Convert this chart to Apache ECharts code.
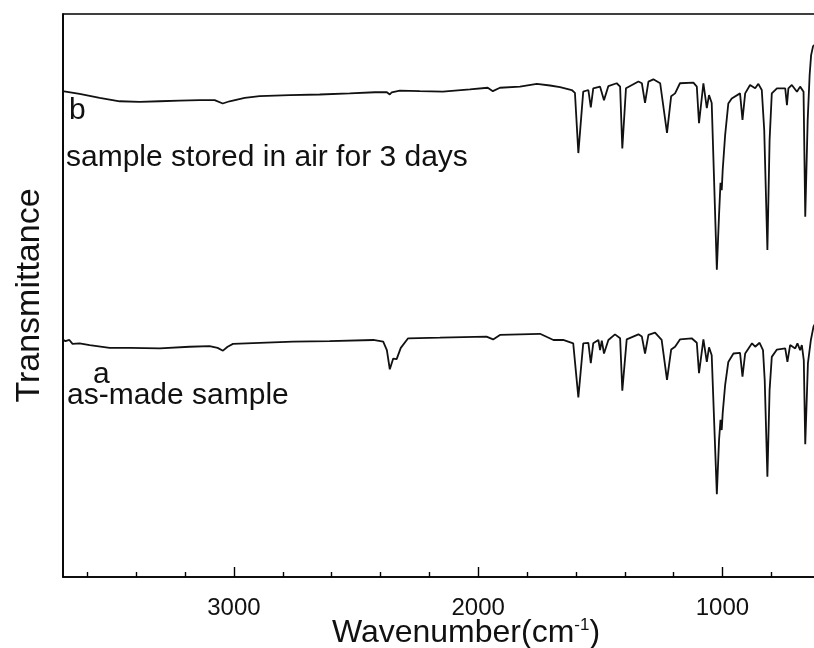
<!DOCTYPE html>
<html>
<head>
<meta charset="utf-8">
<script src="https://cdn.jsdelivr.net/npm/echarts@6/dist/echarts.min.js"></script>
<style>html,body{margin:0;padding:0;background:#fff}#c{width:814px;height:648px}</style>
</head>
<body>
<div id="c"></div>
<script>
// Axis labels / ticks
const majorTicks = [1000, 2000, 3000];
const minorTicks = [600, 800, 1200, 1400, 1600, 1800, 2200, 2400, 2600, 2800, 3200, 3400, 3600];

// Curve b: sample stored in air for 3 days (wavenumber, transmittance a.u.)
const wnB = [3702,3632,3550,3468,3386,3304,3223,3141,3079,3046,3018,2956,2895,2772,2649,2526,2423,2374,2362,2354,2346,2321,2239,2145,2034,1961,1940,1911,1829,1760,1706,1665,1617,1604,1590,1570,1549,1539,1529,1501,1485,1467,1433,1419,1410,1395,1344,1330,1317,1303,1283,1255,1227,1210,1194,1174,1119,1105,1096,1078,1064,1055,1044,1023,1014,1008,1003,999,989,976,962,928,918,907,887,866,853,839,829,816,807,798,777,743,736,730,716,695,682,668,661,651,643,637,629,617];
const tB  = [86.3,85.8,85.1,84.5,84.4,84.5,84.6,84.7,84.7,84.1,84.5,85.1,85.4,85.6,85.7,85.9,86.1,86.1,85.7,86.1,85.9,86.4,86.3,86.2,86.6,86.9,86.3,86.9,87.1,87.6,87.3,87.0,86.5,86.0,75.3,86.2,86.5,83.4,86.8,87.1,84.7,87.2,87.7,87.1,76.1,86.8,88.0,87.7,84.2,88.0,88.4,87.7,78.9,85.4,85.9,87.7,87.8,87.1,80.6,87.7,83.3,85.6,84.2,54.6,64.3,70.0,68.7,72.3,78.5,84.1,85.0,85.9,81.2,85.9,87.4,86.8,87.6,86.5,79.4,58.1,77.6,85.9,86.8,86.8,83.8,86.8,87.4,86.2,87.1,86.2,64.0,81.2,89.2,92.7,94.3,94.7];

// Curve a: as-made sample
const wnA = [3702,3690,3674,3661,3632,3591,3509,3427,3304,3182,3100,3067,3045,3026,3004,2895,2758,2608,2430,2389,2374,2362,2348,2334,2317,2287,2157,1966,1939,1911,1829,1747,1692,1652,1611,1590,1570,1549,1539,1529,1508,1501,1494,1485,1467,1440,1419,1410,1392,1344,1330,1317,1303,1276,1249,1227,1210,1194,1174,1126,1105,1096,1078,1064,1055,1044,1023,1014,1008,1003,999,989,976,955,928,918,907,879,866,848,834,827,816,807,798,777,743,734,723,702,693,682,675,667,661,650,638,627,617];
const tA  = [42.2,41.9,42.1,41.4,41.5,41.2,40.7,40.7,40.6,40.9,41.0,40.7,40.2,40.9,41.4,41.6,41.8,41.9,42.1,41.8,40.3,36.9,38.8,38.7,40.7,42.4,42.5,42.7,42.2,43.0,43.1,43.2,42.1,42.1,41.5,31.9,41.5,41.6,38.0,41.5,42.1,40.3,42.0,39.7,42.1,43.1,42.4,33.1,42.2,43.1,42.7,39.7,43.0,43.4,42.1,35.0,40.4,40.9,42.2,42.4,41.6,36.2,42.2,38.2,40.8,39.4,14.7,24.3,27.9,26.1,29.1,34.1,38.2,39.7,39.8,35.6,39.7,41.5,40.9,41.6,40.3,35.0,17.8,33.2,39.1,40.4,40.6,38.2,41.2,40.6,41.5,40.3,41.2,38.5,23.6,38.0,42.1,44.5,45.3];

const zip = (x, y) => x.map((v, i) => [v, y[i]]);

const chart = echarts.init(document.getElementById('c'), null, {renderer: 'canvas'});
const baseFont = 'Liberation Sans, Arial, sans-serif';
chart.setOption({
  animation: false,
  backgroundColor: '#fff',
  grid: {left: 63, right: -55, top: 14, bottom: 71, show: true, borderColor: '#000', borderWidth: 1.6, containLabel: false, outerBoundsMode: 'none'},
  xAxis: [{
    type: 'value', inverse: true, min: 400, max: 3700, position: 'bottom',
    axisLine: {show: true, lineStyle: {color: '#000', width: 1.6}},
    axisTick: {show: true, inside: true, length: 10, customValues: majorTicks, lineStyle: {color: '#000', width: 1.4}},
    axisLabel: {show: true, customValues: majorTicks, margin: 19, fontSize: 24, color: '#111', fontFamily: baseFont, formatter: v => String(v)},
    splitLine: {show: false},
    name: 'Wavenumber(cm{sup|-1})', nameLocation: 'middle', nameGap: 40, nameMoveOverlap: false,
    nameTextStyle: {fontSize: 32, color: '#111', fontFamily: baseFont, rich: {sup: {fontSize: 17, verticalAlign: 'top', color: '#111', fontFamily: baseFont}}}
  }, {
    type: 'value', inverse: true, min: 400, max: 3700, position: 'bottom',
    axisLine: {show: false},
    axisTick: {show: true, inside: true, length: 5, customValues: minorTicks, lineStyle: {color: '#000', width: 1.4}},
    axisLabel: {show: false},
    splitLine: {show: false}
  }],
  yAxis: {
    type: 'value', min: 0, max: 100,
    axisLine: {show: true, lineStyle: {color: '#000', width: 1.6}},
    axisTick: {show: false}, axisLabel: {show: false}, splitLine: {show: false},
    name: 'Transmittance', nameLocation: 'middle', nameGap: 16, nameRotate: 90, nameMoveOverlap: false,
    nameTextStyle: {fontSize: 34, color: '#111', fontFamily: baseFont}
  },
  series: [
    {type: 'line', name: 'b', data: zip(wnB, tB), showSymbol: false, symbol: 'none', lineStyle: {color: '#111', width: 1.8}, clip: true},
    {type: 'line', name: 'a', data: zip(wnA, tA), showSymbol: false, symbol: 'none', lineStyle: {color: '#111', width: 1.8}, clip: true}
  ],
  graphic: [
    {type: 'text', left: 69, top: 96, style: {text: 'b', fontSize: 30, fill: '#111', fontFamily: baseFont}},
    {type: 'text', left: 66, top: 143, style: {text: 'sample stored in air for 3 days', fontSize: 30, fill: '#111', fontFamily: baseFont}},
    {type: 'text', left: 93, top: 360, style: {text: 'a', fontSize: 30, fill: '#111', fontFamily: baseFont}},
    {type: 'text', left: 67, top: 381, style: {text: 'as-made sample', fontSize: 30, fill: '#111', fontFamily: baseFont}}
  ]
});
</script>
</body>
</html>
